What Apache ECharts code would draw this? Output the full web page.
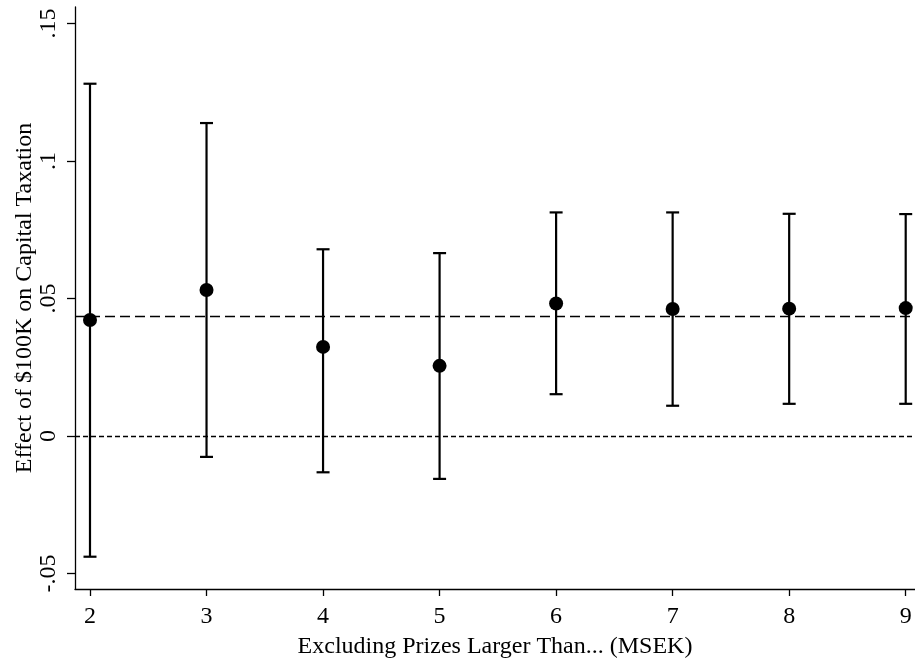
<!DOCTYPE html>
<html>
<head>
<meta charset="utf-8">
<script src="https://cdn.jsdelivr.net/npm/echarts@6/dist/echarts.min.js"></script>
<style>
  html, body { margin: 0; padding: 0; background: #fff; }
  #chart { width: 915px; height: 663px; }
</style>
</head>
<body>
<div id="chart"></div>
<script>
// cutoff in MSEK and the estimated effect with its confidence interval
const cutoffs = [2, 3, 4, 5, 6, 7, 8, 9];
const estimates = [0.0422, 0.0531, 0.0324, 0.0255, 0.0482, 0.0462, 0.0463, 0.0465];
const lowerCI = [-0.0439, -0.0076, -0.0132, -0.0156, 0.0152, 0.0110, 0.0117, 0.0117];
const upperCI = [0.1281, 0.1138, 0.0679, 0.0665, 0.0813, 0.0813, 0.0808, 0.0807];
const baselineEffect = 0.0436;
const yTicks = [-0.05, 0, 0.05, 0.1, 0.15];
const xTicks = [2, 3, 4, 5, 6, 7, 8, 9];

const fmtY = v => {
  const s = String(+v.toFixed(2));
  return s.replace(/^0\./, '.').replace(/^-0\./, '-.');
};

const font = 'Liberation Serif';
const chart = echarts.init(document.getElementById('chart'));

chart.setOption({
  animation: false,
  backgroundColor: '#fff',
  grid: { left: 75, right: 0, top: 7, bottom: 74, outerBoundsMode: 'none', containLabel: false },
  xAxis: {
    type: 'value',
    min: 1.8713,
    max: 9.0798,
    name: 'Excluding Prizes Larger Than... (MSEK)',
    nameLocation: 'middle',
    nameGap: 46,
    nameMoveOverlap: false,
    nameTextStyle: { fontFamily: font, fontSize: 24, color: '#000' },
    splitLine: { show: false },
    axisLine: { show: true, onZero: false, lineStyle: { color: '#000', width: 1.3 } },
    axisTick: { show: true, length: 7, customValues: xTicks, lineStyle: { color: '#000', width: 1.3 } },
    axisLabel: { customValues: xTicks, margin: 16, fontFamily: font, fontSize: 24, color: '#000' }
  },
  yAxis: {
    type: 'value',
    min: -0.05564,
    max: 0.156,
    name: 'Effect of $100K on Capital Taxation',
    nameLocation: 'middle',
    nameGap: 38,
    nameMoveOverlap: false,
    nameTextStyle: { fontFamily: font, fontSize: 24, color: '#000' },
    splitLine: { show: false },
    axisLine: { show: true, onZero: false, lineStyle: { color: '#000', width: 1.3 } },
    axisTick: { show: true, length: 8, customValues: yTicks, lineStyle: { color: '#000', width: 1.3 } },
    axisLabel: {
      customValues: yTicks,
      rotate: 90,
      margin: 14,
      fontFamily: font,
      fontSize: 24,
      color: '#000',
      formatter: fmtY
    }
  },
  series: [
    {
      type: 'custom',
      data: cutoffs.map((c, i) => [c, lowerCI[i], upperCI[i]]),
      renderItem: (params, api) => {
        const lo = api.coord([api.value(0), api.value(1)]);
        const hi = api.coord([api.value(0), api.value(2)]);
        const w = 6.5;
        const style = { stroke: '#000', lineWidth: 2.2 };
        return {
          type: 'group',
          children: [
            { type: 'line', shape: { x1: lo[0], y1: lo[1], x2: hi[0], y2: hi[1] }, style },
            { type: 'line', shape: { x1: hi[0] - w, y1: hi[1], x2: hi[0] + w, y2: hi[1] }, style },
            { type: 'line', shape: { x1: lo[0] - w, y1: lo[1], x2: lo[0] + w, y2: lo[1] }, style }
          ]
        };
      },
      z: 2
    },
    {
      type: 'scatter',
      data: cutoffs.map((c, i) => [c, estimates[i]]),
      symbol: 'circle',
      symbolSize: 14,
      itemStyle: { color: '#000', opacity: 1 },
      z: 3,
      markLine: {
        silent: true,
        symbol: 'none',
        precision: 4,
        label: { show: false },
        data: [
          { yAxis: baselineEffect, lineStyle: { color: '#000', width: 1.3, type: [10, 5] } },
          { yAxis: 0, lineStyle: { color: '#000', width: 1.3, type: [5, 3] } }
        ]
      }
    }
  ]
});
</script>
</body>
</html>
